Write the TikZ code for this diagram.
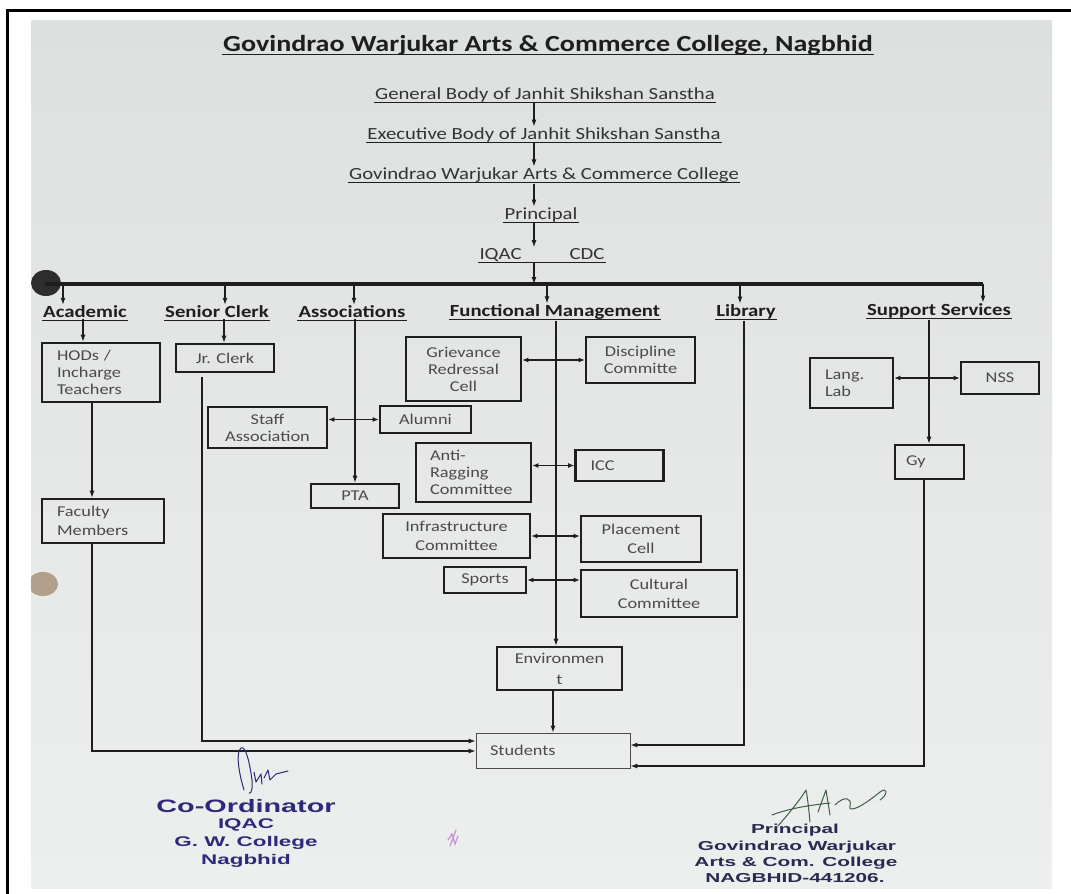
\documentclass[tikz,border=0pt]{standalone}
\usepackage{fontspec}
\setmainfont{Carlito}[FakeStretch=1.22]
\newfontfamily\sigfont{Liberation Sans}[FakeStretch=1.6]
\usetikzlibrary{arrows.meta,calc}
\definecolor{papertop}{HTML}{DCE0DE}
\definecolor{paperbot}{HTML}{EDEFEE}
\definecolor{ink}{HTML}{1E1E1E}
\definecolor{boxtext}{HTML}{4A4A4A}
\definecolor{chaintext}{HTML}{333333}
\definecolor{sigblue}{HTML}{2E2A7A}
\definecolor{sigdark}{HTML}{2A2A50}
\definecolor{siggreen}{HTML}{3E5E45}
\tikzset{
  ulline/.style={draw=ink,line width=0.9pt},
  ul/.style={append after command={([yshift=-3pt]\tikzlastnode.base west) edge[ulline] ([yshift=-3pt]\tikzlastnode.base east)}},
  chain/.style={font=\fontsize{17}{20}\selectfont, text=chaintext, inner sep=1pt, ul},
  head/.style={font=\fontsize{17}{20}\selectfont\bfseries, text=ink, inner sep=1pt, ul},
  box/.style={draw=ink, line width=2.6pt, inner sep=0pt, text=boxtext, align=center,
              font=\fontsize{15}{17}\selectfont},
  lbox/.style={box, align=left},
  arr/.style={draw=ink, line width=1.1pt, -{Latex[length=7pt,width=5pt]}},
  dbl/.style={draw=ink, line width=1.1pt, {Latex[length=6pt,width=5pt]}-{Latex[length=6pt,width=5pt]}},
  sig/.style={font=\sigfont\bfseries\fontsize{14}{16}\selectfont, inner sep=0pt},
  sigp/.style={font=\sigfont\bfseries\fontsize{13}{15}\selectfont, inner sep=0pt, text=sigdark},
}
\begin{document}
\begin{tikzpicture}[x=1pt,y=-1pt]
\useasboundingbox (0,0) rectangle (1071,894);
\fill[white] (0,0) rectangle (1071,894);
\shade[top color=papertop, bottom color=paperbot] (31,20) rectangle (1052,888);
% frame of the scan
\draw[line width=3pt,black] (7,894) -- (7,10) -- (1071,10);
% punch-hole marks
\begin{scope}
\clip (31,20) rectangle (1052,888);
\fill[fill=black!65!gray] (46,283) ellipse (15 and 13);
\fill[fill=brown!40!gray!75] (43,584) ellipse (15 and 12);
\end{scope}

% ---------- top chain ----------
\node[font=\fontsize{23}{27}\selectfont\bfseries, text=ink, inner sep=1pt, ul] (title) at (548,45) {Govindrao Warjukar Arts \& Commerce College, Nagbhid};
\coordinate (spine) at (534,0);
\node[chain] (gb) at (545,95) {General Body of Janhit Shikshan Sanstha};
\node[chain] (eb) at (544,135) {Executive Body of Janhit Shikshan Sanstha};
\node[chain] (gc) at (544,175) {Govindrao Warjukar Arts \& Commerce College};
\node[chain] (pr) at (541,215) {Principal};
\node[chain] (iq) at (542,255) {IQAC\hspace{48pt}CDC};
\draw[arr] (gb.south -| spine) -- (eb.north -| spine);
\draw[arr] (eb.south -| spine) -- (gc.north -| spine);
\draw[arr] (gc.south -| spine) -- (pr.north -| spine);
\draw[arr] (pr.south -| spine) -- (iq.north -| spine);

% ---------- bus ----------
\coordinate (busL) at (45,284);
\coordinate (busR) at (983,284);
\draw[line width=4pt,ink] (busL) -- (busR);
\draw[arr] (iq.south -| spine) -- (busL -| spine);

% ---------- headings ----------
\node[head] (acad) at (85,312) {Academic};
\node[head] (sc) at (217,312) {Senior Clerk};
\node[head] (asso) at (352,312) {Associations};
\node[head] (fm) at (555,312) {Functional Management};
\node[head] (lib) at (746,312) {Library};
\node[head] (sup) at (939,311) {Support Services};
\coordinate (d1) at (63,284);
\coordinate (d2) at (225,284);
\coordinate (d3) at (354,284);
\coordinate (d4) at (547,284);
\coordinate (d5) at (740,284);
\draw[arr] (d1) -- (d1 |- acad.north);
\draw[arr] (d2) -- (d2 |- sc.north);
\draw[arr] (d3) -- (d3 |- asso.north);
\draw[arr] (d4) -- (d4 |- fm.north);
\draw[arr] (d5) -- (d5 |- lib.north);
\draw[arr] (busR) -- (busR |- sup.north);

% ---------- boxes ----------
\node[lbox, text width=88, inner xsep=15, minimum height=59] (hod) at (101,372.5) {HODs /\\Incharge\\Teachers};
\node[lbox, text width=92, inner xsep=15, minimum height=44, font=\fontsize{15}{19}\selectfont] (fac) at (103,521) {Faculty\\Members};
\node[box, minimum width=98, minimum height=28] (jr) at (225,358) {Jr. Clerk};
\node[box, minimum width=119, minimum height=41] (staff) at (267.5,427.5) {Staff\\Association};
\node[box, minimum width=91, minimum height=27] (alu) at (425.5,419.5) {Alumni};
\node[box, minimum width=88, minimum height=24] (pta) at (355,496) {PTA};
\node[box, minimum width=115, minimum height=64] (grc) at (463.5,369) {Grievance\\Redressal\\Cell};
\node[box, minimum width=109, minimum height=46] (dis) at (640.5,360) {Discipline\\Committe};
\node[lbox, text width=87, inner xsep=14, minimum height=59] (anti) at (473.5,472.5) {Anti-\\Ragging\\Committee};
\node[lbox, text width=58, inner xsep=15, minimum height=31] (icc) at (619.5,465.5) {ICC};
\node[box, minimum width=147, minimum height=44, font=\fontsize{15}{19}\selectfont] (inf) at (456.5,536) {Infrastructure\\Committee};
\node[box, minimum width=120, minimum height=46, font=\fontsize{15}{19}\selectfont] (pla) at (641,539) {Placement\\Cell};
\node[box, minimum width=82, minimum height=26] (spo) at (485,580) {Sports};
\node[box, minimum width=156, minimum height=47, font=\fontsize{15}{19}\selectfont] (cul) at (659,593.5) {Cultural\\Committee};
\node[box, minimum width=125, minimum height=43, font=\fontsize{15}{21}\selectfont] (env) at (559.5,668.5) {Environmen\\t};
\node[draw=black!70, line width=0.8pt, text=boxtext, font=\fontsize{15}{17}\selectfont, align=left, text width=126, inner xsep=14, minimum height=35, inner ysep=0pt] (stu) at (553,750.5) {Students};
\node[lbox, text width=53, inner xsep=15, minimum height=50] (lang) at (851.5,383) {Lang.\\Lab};
\node[box, minimum width=78, minimum height=32] (nss) at (1000,378) {NSS};
\node[lbox, text width=47, inner xsep=11, minimum height=34] (gy) at (929.5,462) {Gy};

% ---------- connectors ----------
\coordinate (xa) at (83,0);
\coordinate (xb) at (92,0);
\draw[arr] (acad.south -| xa) -- (hod.north -| xa);
\draw[arr] (hod.south -| xb) -- (fac.north -| xb);
\coordinate (ya) at (0,751);
\draw[arr] (fac.south -| xb) -- (ya -| xb) -- (ya -| stu.west);

\coordinate (xc) at (224,0);
\draw[arr] (sc.south -| xc) -- (jr.north -| xc);
\coordinate (jrl) at (202,377);
\coordinate (yb) at (0,741);
\draw[arr] (jrl) -- (yb -| jrl) -- (yb -| stu.west);

\coordinate (xd) at (355,0);
\draw[arr] (asso.south -| xd) -- (pta.north -| xd);
\draw[dbl] (staff.east |- alu.west) -- (alu.west);

\coordinate (xe) at (556,0);
\draw[arr] (fm.south -| xe) -- (env.north -| xe);
\draw[dbl] (grc.east |- dis.west) -- (dis.west);
\draw[dbl] (anti.east |- icc.west) -- (icc.west);
\draw[dbl] (inf.east) -- (inf.east -| pla.west);
\draw[dbl] (spo.east) -- (spo.east -| cul.west);
\coordinate (xf) at (553,0);
\draw[arr] (env.south -| xf) -- (stu.north -| xf);

\coordinate (xg) at (744,0);
\coordinate (yc) at (0,745);
\draw[arr] (lib.south -| xg) -- (yc -| xg) -- (yc -| stu.east);

\coordinate (xh) at (929,0);
\draw[arr] (sup.south -| xh) -- (gy.north -| xh);
\draw[dbl] (lang.east |- nss.west) -- (nss.west);
\coordinate (xi) at (924,0);
\coordinate (yd) at (0,766);
\draw[arr] (gy.south -| xi) -- (yd -| xi) -- (yd -| stu.east);

% ---------- signatures ----------
\node[sig, text=sigblue, font=\sigfont\bfseries\fontsize{18}{20}\selectfont] (co) at (246,806) {Co-Ordinator};
\node[sig, text=sigblue] (co1) at (246,825) {IQAC};
\node[sig, text=sigblue] (co2) at (246,843) {G. W. College};
\node[sig, text=sigblue] (co3) at (246,861) {Nagbhid};
\node[sigp] (p0) at (795,830) {Principal};
\node[sigp] (p1) at (797,847) {Govindrao Warjukar};
\node[sigp] (p2) at (796,863) {Arts \& Com. College};
\node[sigp] (p3) at (795,878) {NAGBHID-441206.};
% handwritten marks
\draw[sigblue, line width=1pt, line cap=round, line join=round]
  (244,790) .. controls (238,770) and (236,752) .. (241,748)
  .. controls (246,745) and (250,765) .. (252,780)
  .. controls (253,788) and (251,795) .. (249,793)
  (254,772) -- (256,782) -- (261,774) -- (262,784)
  (264,778) -- (268,770) -- (270,780) -- (276,774) -- (288,771);
\draw[siggreen, line width=1pt, line cap=round, line join=round]
  (778,826) .. controls (790,812) and (800,800) .. (806,790)
  .. controls (808,800) and (809,812) .. (810,822)
  (772,815) .. controls (790,808) and (812,805) .. (830,803)
  (818,812) -- (826,790) -- (830,815)
  (835,805) .. controls (845,795) and (852,798) .. (850,806)
  .. controls (848,812) and (858,810) .. (880,792)
  .. controls (888,786) and (888,795) .. (880,800);
\draw[blue!40!purple!40, line width=1.3pt, line cap=round]
  (448,840) -- (452,834) -- (455,844) -- (458,836) (450,846) -- (456,830);
\end{tikzpicture}
\end{document}
